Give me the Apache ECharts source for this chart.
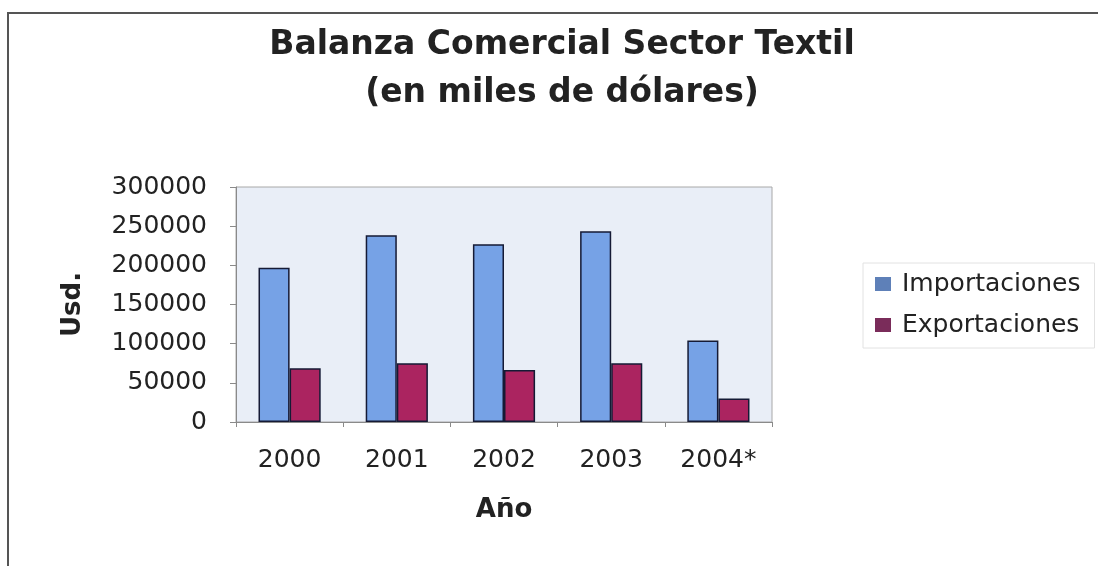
<!DOCTYPE html>
<html>
<head>
<meta charset="utf-8">
<script src="https://cdn.jsdelivr.net/npm/echarts@6/dist/echarts.min.js"></script>
<style>
  html, body { margin: 0; padding: 0; background: #ffffff; }
  #chart { width: 1098px; height: 566px; }
</style>
</head>
<body>
<div id="chart"></div>
<script>
const titleLines = ['Balanza Comercial Sector Textil', '(en miles de dólares)'];
const years = ['2000', '2001', '2002', '2003', '2004*'];
const importaciones = [197000, 238500, 227000, 243500, 104000];
const exportaciones = [68500, 75000, 66500, 75000, 30000];
const seriesNames = ['Importaciones', 'Exportaciones'];
const yTicks = { min: 0, max: 300000, interval: 50000 };
const yName = 'Usd.';
const xName = 'Año';

const FONT = 'DejaVu Sans';
const chart = echarts.init(document.getElementById('chart'));

chart.setOption({
  backgroundColor: '#ffffff',
  animation: false,
  graphic: [
    { type: 'rect', z: -10, shape: { x: 8, y: 13, width: 1200, height: 700 },
      style: { fill: 'none', stroke: '#555555', lineWidth: 2 } },
    { type: 'text', x: 562, y: 45,
      style: { text: titleLines[0], font: 'bold 33px "DejaVu Sans"', fill: '#222222',
               textAlign: 'center', textVerticalAlign: 'middle' } },
    { type: 'text', x: 562, y: 93,
      style: { text: titleLines[1], font: 'bold 33px "DejaVu Sans"', fill: '#222222',
               textAlign: 'center', textVerticalAlign: 'middle' } }
  ],
  legend: {
    orient: 'vertical',
    left: 863,
    top: 263,
    padding: [7, 14, 9, 12],
    borderColor: '#e2e2e2',
    borderWidth: 1,
    itemWidth: 16,
    itemHeight: 14,
    itemGap: 13,
    icon: 'rect',
    itemStyle: { borderWidth: 0 },
    textStyle: { fontFamily: FONT, fontSize: 25, color: '#222222', lineHeight: 28, padding: [0, 0, 0, 6] },
    data: [
      { name: seriesNames[0], itemStyle: { color: '#5e80b8', borderWidth: 0 } },
      { name: seriesNames[1], itemStyle: { color: '#7a2c5a', borderWidth: 0 } }
    ]
  },
  grid: {
    left: 236, top: 187, right: 326, bottom: 144,
    show: true,
    backgroundColor: '#e9eef7',
    borderColor: '#a8a8a8',
    borderWidth: 1
  },
  xAxis: {
    type: 'category',
    data: years,
    name: xName,
    nameLocation: 'middle',
    nameGap: 75,
    nameTextStyle: { fontFamily: FONT, fontSize: 26, fontWeight: 'bold', color: '#222222' },
    axisLine: { show: true, lineStyle: { color: '#8a8a8a', width: 1 } },
    axisTick: { show: true, length: 5, lineStyle: { color: '#8a8a8a' } },
    axisLabel: { fontFamily: FONT, fontSize: 25, color: '#222222', margin: 26 },
    splitLine: { show: false }
  },
  yAxis: {
    type: 'value',
    min: yTicks.min,
    max: yTicks.max,
    interval: yTicks.interval,
    name: yName,
    nameLocation: 'middle',
    nameRotate: 90,
    nameGap: 150,
    nameTextStyle: { fontFamily: FONT, fontSize: 26, fontWeight: 'bold', color: '#222222' },
    axisLine: { show: true, lineStyle: { color: '#8a8a8a', width: 1 } },
    axisTick: { show: true, length: 6, lineStyle: { color: '#8a8a8a' } },
    axisLabel: { fontFamily: FONT, fontSize: 25, color: '#222222', margin: 29,
                 formatter: function (v) { return String(v); } },
    splitLine: { show: false }
  },
  series: [
    {
      name: seriesNames[0],
      type: 'bar',
      data: importaciones,
      barGap: '0%',
      barCategoryGap: '42%',
      itemStyle: { color: '#76a2e6', borderColor: '#151a35', borderWidth: 1.5 }
    },
    {
      name: seriesNames[1],
      type: 'bar',
      data: exportaciones,
      barGap: '0%',
      barCategoryGap: '42%',
      itemStyle: { color: '#ab2460', borderColor: '#151a35', borderWidth: 1.5 }
    }
  ]
});
</script>
</body>
</html>
